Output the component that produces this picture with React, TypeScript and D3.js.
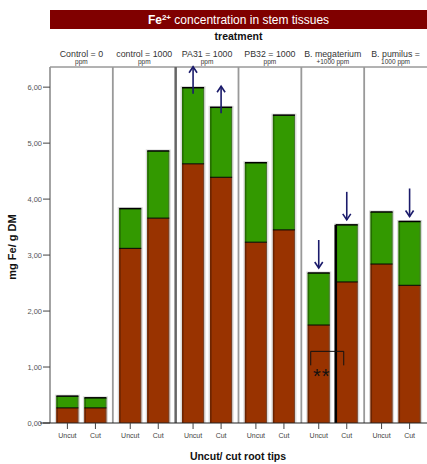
import * as d3 from "d3";

const groups = [
  "Control = 0|ppm",
  "control = 1000|ppm",
  "PA31 = 1000|ppm",
  "PB32 = 1000|ppm",
  "B. megaterium|+1000 ppm",
  "B. pumilus =|1000 ppm",
];
const cuts = ["Uncut", "Cut"];

// lower (brown) and upper (green) parts of each stacked bar
const uncutLower = [0.27, 3.12, 4.63, 3.23, 1.75, 2.84];
const uncutUpper = [0.21, 0.71, 1.36, 1.42, 0.93, 0.93];
const cutLower = [0.27, 3.66, 4.39, 3.45, 2.52, 2.46];
const cutUpper = [0.18, 1.2, 1.25, 2.05, 1.02, 1.14];

const yTicks = [0, 1, 2, 3, 4, 5, 6];

// arrows: group index, cut, direction
const arrows = [
  { g: 2, c: "Uncut", dir: "up" },
  { g: 2, c: "Cut", dir: "up" },
  { g: 4, c: "Uncut", dir: "down" },
  { g: 4, c: "Cut", dir: "down" },
  { g: 5, c: "Cut", dir: "down" },
];

const W = 427;
const H = 464;
const LEFT = 50;
const RIGHT = 427;
const TOP = 67;
const BOTTOM = 423;

const BROWN = "#993300";
const GREEN = "#339900";
const FONT = "'Liberation Sans', Arial, sans-serif";

export default function App() {
  const x = d3.scaleBand().domain(groups).range([LEFT, RIGHT]);
  const xi = d3
    .scaleBand()
    .domain(cuts)
    .range([0, x.bandwidth()])
    .paddingInner(0.214)
    .paddingOuter(0.228);
  const y = d3.scaleLinear().domain([0, 6.36]).range([BOTTOM, TOP]);

  const rows = groups.map((g, i) => [
    { g, i, c: "Uncut", lower: uncutLower[i], upper: uncutUpper[i] },
    { g, i, c: "Cut", lower: cutLower[i], upper: cutUpper[i] },
  ]).flat();

  const bw = xi.bandwidth();

  const bars = rows.map((d, k) => {
    const bx = (x(d.g) ?? 0) + (xi(d.c) ?? 0);
    const total = d.lower + d.upper;
    const yTot = y(total);
    const yLow = y(d.lower);
    const thickLeft = d.i === 4 && d.c === "Cut";
    return (
      <g key={k}>
        <rect x={bx - 1.5} y={yTot - 1.5} width={bw + 3} height={BOTTOM - yTot + 1.5} fill="#d9d9d9" />
        <rect x={bx} y={yLow} width={bw} height={BOTTOM - yLow} fill={BROWN} />
        <rect x={bx} y={yTot} width={bw} height={yLow - yTot} fill={GREEN} />
        <line x1={bx + 0.75} x2={bx + 0.75} y1={yLow} y2={BOTTOM} stroke="#6a2300" strokeWidth={1.5} />
        <line x1={bx + 0.75} x2={bx + 0.75} y1={yTot} y2={yLow} stroke="#246b00" strokeWidth={1.5} />
        <line x1={bx + bw - 0.5} x2={bx + bw - 0.5} y1={yTot} y2={BOTTOM} stroke="#555" strokeWidth={1} opacity={0.5} />
        {thickLeft && <line x1={bx} x2={bx} y1={yTot} y2={BOTTOM} stroke="#000" strokeWidth={2.5} />}
        <line x1={bx} x2={bx + bw} y1={yTot} y2={yTot} stroke="#000" strokeWidth={1.5} />
        <line x1={bx} x2={bx + bw} y1={yLow} y2={yLow} stroke="#000" strokeWidth={1} />
      </g>
    );
  });

  const arrowMarks = arrows.map((a, k) => {
    const d = rows.find((r) => r.i === a.g && r.c === a.c)!;
    const cx = (x(d.g) ?? 0) + (xi(d.c) ?? 0) + bw / 2;
    const top = y(d.lower + d.upper);
    const y1 = a.dir === "up" ? top + 6 : top - 33;
    const y2 = a.dir === "up" ? top - 21 : top - 5;
    const h = a.dir === "up" ? 6 : -6;
    return (
      <g key={k} stroke="#1b1b6b" strokeWidth={1.6} fill="none">
        <line x1={cx} x2={cx} y1={y1} y2={y2} />
        <polyline points={`${cx - 4},${y2 + h} ${cx},${y2} ${cx + 4},${y2 + h}`} />
      </g>
    );
  });

  // significance bracket between megaterium Uncut and Cut
  const mg = groups[4];
  const bU = (x(mg) ?? 0) + (xi("Uncut") ?? 0);
  const bC = (x(mg) ?? 0) + (xi("Cut") ?? 0);
  const bracketY = y(1.28);

  return (
    <svg width={W} height={H} style={{ position: "absolute", left: 0, top: 0, background: "#fff" }} fontFamily={FONT}>
      {/* title bar */}
      <rect x={LEFT} y={10} width={RIGHT - LEFT} height={19} fill="#800000" />
      <text x={(LEFT + RIGHT) / 2} y={24} textAnchor="middle" fill="#fff" fontSize={12}>
        <tspan fontWeight="bold">Fe</tspan>
        <tspan fontSize={8} dy={-4} fontWeight="bold">2+</tspan>
        <tspan dy={4}> concentration in stem tissues</tspan>
      </text>
      <text x={(LEFT + RIGHT) / 2} y={40} textAnchor="middle" fontSize={10.5} fontWeight="bold" fill="#111">
        treatment
      </text>

      {/* panel headers */}
      {groups.map((g) => {
        const [a, b] = g.split("|");
        const cx = (x(g) ?? 0) + x.bandwidth() / 2;
        return (
          <g key={g} fill="#333" textAnchor="middle">
            <text x={cx} y={57} fontSize={8.8}>{a}</text>
            <text x={cx} y={64} fontSize={6.5}>{b}</text>
          </g>
        );
      })}

      {/* panel frame */}
      <line x1={LEFT} x2={RIGHT} y1={TOP} y2={TOP} stroke="#666" strokeWidth={1} />
      {groups.map((g, i) => {
        const px = x(g) ?? 0;
        return (
          <line
            key={g}
            x1={px}
            x2={px}
            y1={TOP}
            y2={BOTTOM}
            stroke={i === 2 ? "#666" : "#999"}
            strokeWidth={i === 2 ? 2.5 : 1.8}
          />
        );
      })}

      {bars}
      {arrowMarks}

      {/* bracket */}
      <g stroke="#111" strokeWidth={1} fill="none">
        <polyline
          points={`${bU + 3},${bracketY + 14} ${bU + 3},${bracketY} ${bC + 8},${bracketY} ${bC + 8},${bracketY + 14}`}
        />
      </g>
      <text x={bU + 14} y={bracketY + 32} textAnchor="middle" fontSize={20} fill="#111" letterSpacing={1}>
        **
      </text>

      {/* y axis */}
      {yTicks.map((t) => (
        <g key={t}>
          <line x1={LEFT - 7} x2={LEFT} y1={y(t)} y2={y(t)} stroke="#444" />
          <text x={LEFT - 8} y={y(t) + 3} textAnchor="end" fontSize={7.5} fill="#555">
            {d3.format(".2f")(t).replace(".", ",")}
          </text>
        </g>
      ))}
      <text
        transform={`translate(16, ${(TOP + BOTTOM) / 2 + 2}) rotate(-90)`}
        textAnchor="middle"
        fontSize={11}
        fontWeight="bold"
        fill="#111"
      >
        mg Fe/ g DM
      </text>

      {/* x axis */}
      <line x1={LEFT - 10} x2={RIGHT} y1={BOTTOM} y2={BOTTOM} stroke="#222" strokeWidth={1.2} />
      {rows.map((d, k) => {
        const cx = (x(d.g) ?? 0) + (xi(d.c) ?? 0) + bw / 2;
        return (
          <g key={k}>
            <line x1={cx} x2={cx} y1={BOTTOM} y2={BOTTOM + 6} stroke="#444" />
            <text x={cx} y={BOTTOM + 15} textAnchor="middle" fontSize={7} fill="#444">
              {d.c}
            </text>
          </g>
        );
      })}
      <text x={238} y={460} textAnchor="middle" fontSize={10.5} fontWeight="bold" fill="#111">
        Uncut/ cut root tips
      </text>
    </svg>
  );
}
